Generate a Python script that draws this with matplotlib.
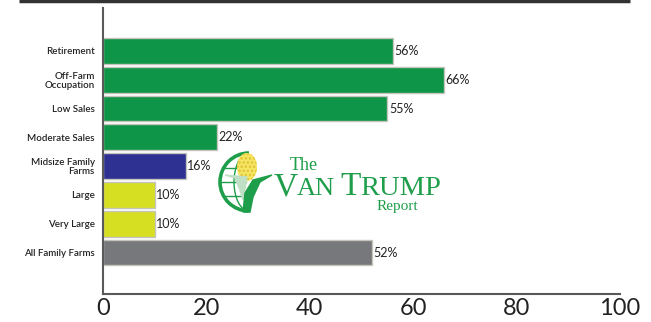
import matplotlib
matplotlib.use("Agg")
import matplotlib.pyplot as plt
from matplotlib.patches import Arc, Ellipse, Polygon

plt.rcParams['font.family'] = ['Lato', 'DejaVu Sans']
plt.rcParams['hatch.linewidth'] = 0.5

# Chart data
categories = ["Retirement", "Off-Farm\nOccupation", "Low Sales", "Moderate Sales",
              "Midsize Family\nFarms", "Large", "Very Large", "All Family Farms"]
values = [56, 66, 55, 22, 16, 10, 10, 52]
colors = ["#0f9548", "#0f9548", "#0f9548", "#0f9548", "#2e3192", "#d7df23", "#d7df23", "#77787b"]
ticks = [0, 20, 40, 60, 80, 100]

fig = plt.figure(figsize=(6.51, 3.22), dpi=100)
ax = fig.add_axes([103/651, 1-294/322, 517/651, 286/322])

pos = list(range(len(categories)))
ax.barh(pos, values, height=0.9, color=colors, edgecolor="#c4c4bc", linewidth=1)
ax.set_xlim(0, 100)
ax.set_ylim(8.44, -1.49)

ax.set_yticks(pos)
ax.set_yticklabels(categories, fontsize=7, color="#222222", linespacing=1.0, fontweight="semibold")
ax.set_xticks(ticks)
ax.tick_params(axis="y", length=0, pad=6)
ax.tick_params(axis="x", length=0, pad=3, labelsize=17, labelcolor="#222222")

for s in ["top", "right"]:
    ax.spines[s].set_visible(False)
for s in ["left", "bottom"]:
    ax.spines[s].set_color("#58595b")
    ax.spines[s].set_linewidth(1.5)

for p, v in zip(pos, values):
    ax.text(v + 0.3, p, f"{v}%", va="center", ha="left", fontsize=9, color="#222222")

# Overlay in pixel coordinates for the top rule and the logo
over = fig.add_axes([0, 0, 1, 1], facecolor="none")
over.set_xlim(0, 651)
over.set_ylim(322, 0)
over.axis("off")
over.plot([19, 630], [0.5, 0.5], color="#333333", lw=2.5, solid_capstyle="butt")

green = "#1e9e4a"
over.add_patch(Arc((249, 182), 58, 58, theta1=90, theta2=270, ec=green, lw=2.6))
over.add_patch(Arc((249, 182), 30, 58, theta1=90, theta2=270, ec=green, lw=1))
over.plot([220, 246], [182, 182], color=green, lw=1)
over.plot([224, 240], [168, 168], color=green, lw=1)
over.plot([224, 244], [196, 196], color=green, lw=1)
over.add_patch(Ellipse((247, 167), 20, 28, fc="#f4e565", ec="#e6c93a", hatch="oooo", lw=0, zorder=4))
over.add_patch(Polygon([[225, 175], [247, 177], [243, 200], [240, 190], [235, 178]],
                       color="#bfe0c4", zorder=4))
over.add_patch(Polygon([[243, 212], [245, 193], [253, 180], [272, 175], [260, 182],
                        [253, 197], [250, 212]], color=green, zorder=5))

serif = ['Liberation Serif', 'DejaVu Serif']
base = 195
over.text(290, 170, "The", color=green, family=serif, fontsize=13, ha="left", va="baseline")
over.text(274, base, "V", color=green, family=serif, fontsize=24, ha="left", va="baseline")
over.text(297, base, "AN", color=green, family=serif, fontsize=19, ha="left", va="baseline")
over.text(340, base, "T", color=green, family=serif, fontsize=24, ha="left", va="baseline")
over.text(360, base, "RUMP", color=green, family=serif, fontsize=20.5, ha="left", va="baseline")
over.text(377, 210, "Report", color=green, family=serif, fontsize=11, ha="left", va="baseline")

fig.savefig("out.png", dpi=100)
